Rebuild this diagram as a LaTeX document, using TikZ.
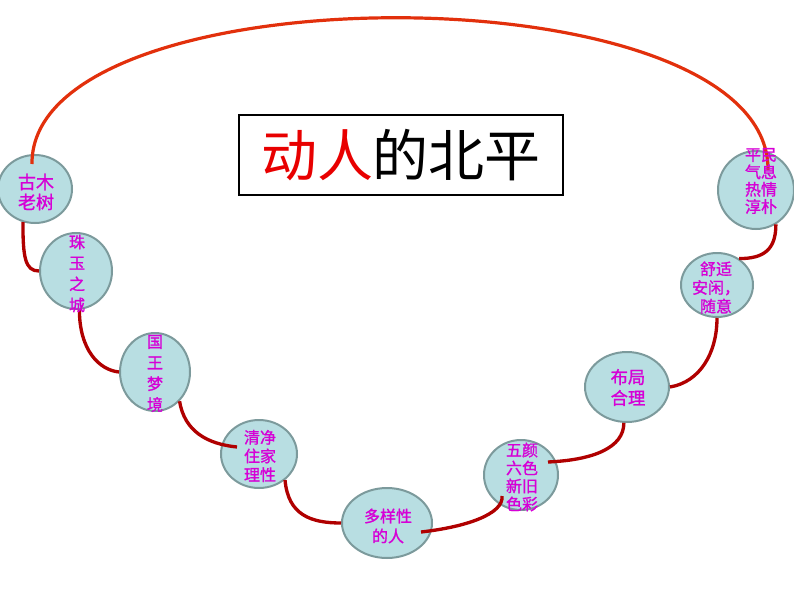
\documentclass[tikz,border=0pt]{standalone}
\usepackage{fontspec}
\newfontfamily\cjk{Noto Sans CJK SC}
\newfontfamily\cjkbold{Noto Sans CJK SC}[FakeBold=1.2]
\usetikzlibrary{shapes.geometric}
\definecolor{bubfill}{RGB}{184,222,226}
\definecolor{bubline}{RGB}{124,154,156}
\definecolor{linkred}{RGB}{176,0,0}
\definecolor{arcred}{RGB}{226,48,12}
\definecolor{txtmag}{RGB}{214,0,214}
\definecolor{titred}{RGB}{232,0,0}

\begin{document}
\begin{tikzpicture}[x=0.75pt,y=-0.75pt,
    bubble/.style={ellipse,draw=bubline,fill=bubfill,line width=1.5pt,inner sep=0pt},
    word/.style={text=txtmag,align=center,inner sep=0pt,font=\cjkbold\fontsize{12}{#1}\selectfont},
    link/.style={draw=linkred,line width=2.5pt},
    bigarc/.style={draw=arcred,line width=2.4pt}]
\useasboundingbox (0,0) rectangle (794,596);
% title
\node[draw,line width=1.5pt,minimum width=243pt,minimum height=60pt,inner sep=0pt,
    font=\cjk\fontsize{42}{46}\selectfont] (title) at (401,155)
    {\textcolor{titred}{动人}的北平};
% bubbles
\node[bubble,minimum width=55.5pt,minimum height=51pt] (n1) at (35,189) {};
\node[bubble,minimum width=54pt,minimum height=57pt] (n2) at (76,271) {};
\node[bubble,minimum width=52.5pt,minimum height=58.5pt] (n3) at (155,372) {};
\node[bubble,minimum width=57pt,minimum height=51pt] (n4) at (259,454) {};
\node[bubble,minimum width=67.5pt,minimum height=52.5pt] (n5) at (387,523) {};
\node[bubble,minimum width=55.5pt,minimum height=52.5pt] (n6) at (521,475) {};
\node[bubble,minimum width=63pt,minimum height=52.5pt] (n7) at (627,387) {};
\node[bubble,minimum width=54pt,minimum height=48pt] (n8) at (717,285) {};
\node[bubble,minimum width=57pt,minimum height=58.5pt] (n9) at (756,190) {};
% links
\draw[link] (n1.250) .. controls +(0,35) and +(-14,0) .. (n2.west);
\draw[link] (n2.275) .. controls +(0,40) and +(-20,-2) .. (n3.west);
\draw[link] (n3.-50) .. controls +(5,30) and +(-30,-3) .. ([shift={(17,-7)}]n4.west);
\draw[link] (n4.-45) .. controls +(3,35) and +(-30,0) .. (n5.west);
\draw[link] ([shift={(-12,9)}]n5.east) .. controls +(45,-5) and +(2,18) .. ([shift={(-19,-15)}]n6.south);
\draw[link] ([shift={(-11,-13)}]n6.east) .. controls +(45,-2) and +(0,25) .. (n7.265);
\draw[link] (n7.east) .. controls +(30,-5) and +(0,35) .. (n8.south);
\draw[link] (n8.50) .. controls +(25,0) and +(0,25) .. (n9.-60);
\draw[bigarc] ([shift={(-3,10)}]n1.north) .. controls (30,-32) and (770,-32) .. ([shift={(12,-20)}]n9.center);
% texts
\node[word=15pt,font=\cjkbold\fontsize{13.5}{15}\selectfont] (t1) at ([shift={(1,3)}]n1.center) {古木\\老树};
\node[word=15.75pt] (t2) at ([shift={(1,2.5)}]n2.center) {珠\\玉\\之\\城};
\node[word=15.75pt] (t3) at ([shift={(0,1.5)}]n3.center) {国\\王\\梦\\境};
\node[word=14pt] (t4) at ([shift={(1,2)}]n4.center) {清净\\住家\\理性};
\node[word=15pt] (t5) at ([shift={(1,3)}]n5.center) {多样性\\的人};
\node[word=13.5pt] (t6) at ([shift={(1,2)}]n6.center) {五颜\\六色\\新旧\\色彩};
\node[word=15.75pt,font=\cjkbold\fontsize{13}{15.75}\selectfont] (t7) at ([shift={(1,0.5)}]n7.center) {布局\\合理};
\node[word=14pt] (t8) at ([shift={(-1,2.5)}]n8.center) {舒适\\安闲，\\随意};
\node[word=13pt] (t9) at ([shift={(5,-9)}]n9.center) {平民\\气息\\热情\\淳朴};
\end{tikzpicture}
\end{document}
